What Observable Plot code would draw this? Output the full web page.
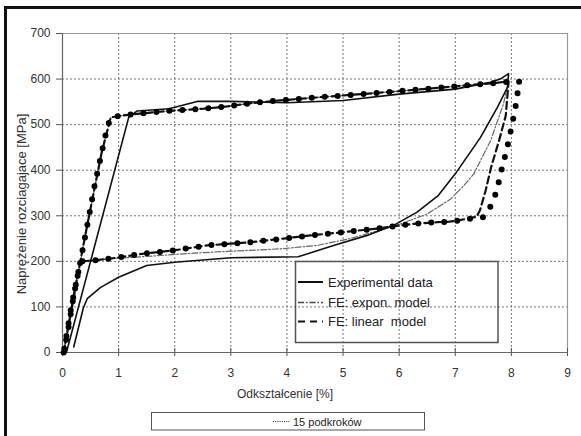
<!DOCTYPE html>
<html>
<head>
<meta charset="utf-8">
<script src="https://cdn.jsdelivr.net/npm/d3@7"></script>
<script src="https://cdn.jsdelivr.net/npm/@observablehq/plot@0.6"></script>
<style>
  body { margin: 0; background: white; }
  #wrap { position: relative; width: 581px; height: 436px; background: white; overflow: hidden; font-family: "Liberation Sans", Arial, sans-serif; }
  #overlay { position: absolute; left: 0; top: 0; pointer-events: none; }
</style>
</head>
<body>
<div id="wrap"></div>
<script>
// ---- data ----
const xTicks = [0, 1, 2, 3, 4, 5, 6, 7, 8, 9];
const yTicks = [0, 100, 200, 300, 400, 500, 600, 700];
const xGrid = [1, 2, 3, 4, 5, 6, 7, 8];
const yGrid = [100, 200, 300, 400, 500, 600];

const xLabel = "Odkształcenie [%]";
const yLabel = "Naprężenie rozciagajace [MPa]";
const legendNames = ["Experimental data", "FE: expon. model", "FE: linear  model"];
const bottomLegendName = "15 podkroków";

// Experimental data (solid)
const expX = [0.07, 0.5, 1.18, 1.33, 1.9, 2.4, 3.0, 4.0, 5.0, 6.0, 7.0, 7.5, 7.63, 7.8, 7.95,
              7.93, 7.75, 7.45, 7.0, 6.7, 6.32, 5.9, 5.43, 4.83, 4.2, 3.0, 2.0, 1.5, 1.0, 0.68, 0.44, 0.37, 0.2];
const expY = [0, 200, 516, 530, 535, 551, 551, 548, 553, 567, 578, 590, 593, 600, 612,
              582, 538, 472, 392, 345, 308, 279, 257, 235, 210, 208, 198, 191, 165, 143, 118, 97, 12];

// FE: expon. model (dash-dot)
const exponX = [0.02, 0.2, 0.45, 0.7, 0.86, 1.06, 1.44, 1.87, 2.52, 2.94, 3.29, 3.77, 4.36, 5.0, 5.85, 6.62, 7.27, 7.68, 7.95,
                7.86, 7.63, 7.33, 7.15, 6.92, 6.5, 6.02, 5.73, 5.13, 4.54, 3.94, 3.5, 2.94, 2.34, 1.75, 1.15, 0.97, 0.55, 0.32, 0.02];
const exponY = [0, 125, 285, 440, 516, 520, 525, 530, 535, 540, 546, 552, 558, 564, 572, 580, 587, 591, 595,
                546, 465, 392, 366, 337, 304, 282, 271, 250, 235, 228, 225, 222, 218, 213, 208, 207, 202, 200, 0];

// FE: linear model (dashed)
const linX = [0.02, 0.2, 0.45, 0.7, 0.86, 1.06, 1.44, 1.87, 2.52, 2.94, 3.29, 3.77, 4.36, 5.0, 5.85, 6.62, 7.27, 7.68, 7.95,
              7.9, 7.78, 7.64, 7.54, 7.44, 7.38, 7.1, 6.9, 6.68, 6.32, 6.03, 5.6, 5.0, 4.42, 3.94, 3.35, 2.58, 1.98, 1.45, 0.97, 0.55, 0.32, 0.02];
const linY = [0, 125, 285, 440, 516, 520, 525, 530, 535, 540, 546, 552, 558, 564, 572, 580, 587, 591, 595,
              520, 465, 407, 355, 312, 298, 291, 287, 286, 283, 279, 272, 264, 257, 250, 242, 235, 224, 217, 208, 202, 200, 0];

// 15 podkroków (big dots)
const subX = [0.02, 0.1, 0.2, 0.32, 0.45, 0.57, 0.7, 0.8, 0.86, 1.06, 1.44, 1.87, 2.52, 2.94, 3.29, 3.77, 4.36, 5.0, 5.85, 6.62, 7.27, 7.68, 7.93, 8.16,
              8.1, 8.07, 8.02, 7.97, 7.92, 7.86, 7.8, 7.74, 7.64, 7.5, 7.3, 7.1, 6.9, 6.68, 6.32, 6.03, 5.6, 5.0, 4.42, 3.94, 3.35, 2.58, 1.98, 1.45, 0.97, 0.55, 0.32, 0.15, 0.02];
const subY = [0, 50, 125, 200, 285, 365, 440, 495, 516, 520, 525, 530, 535, 540, 546, 552, 558, 564, 572, 580, 587, 591, 594, 594,
              564, 535, 505, 476, 447, 418, 388, 355, 323, 297, 294, 290, 287, 286, 283, 279, 272, 264, 257, 250, 242, 235, 224, 217, 208, 202, 200, 95, 0];

const toRows = (xs, ys) => xs.map((x, i) => ({x, y: ys[i]}));
const expData = toRows(expX, expY);
const exponData = toRows(exponX, exponY);
const linData = toRows(linX, linY);
const subData = toRows(subX, subY);

const font = "'Liberation Sans', Arial, sans-serif";

const chart = Plot.plot({
  width: 581,
  height: 405,
  marginLeft: 62,
  marginRight: 14,
  marginTop: 33,
  marginBottom: 53,
  x: {domain: [0, 9]},
  y: {domain: [0, 700]},
  style: {fontFamily: font, fontSize: "12px", color: "#333", background: "white", overflow: "visible"},
  marks: [
    Plot.gridX(xGrid, {stroke: "#777", strokeOpacity: 1, strokeDasharray: "2,2"}),
    Plot.gridY(yGrid, {stroke: "#777", strokeOpacity: 1, strokeDasharray: "2,2"}),
    Plot.ruleX([9], {stroke: "#999", strokeWidth: 1.2}),
    Plot.ruleY([700], {stroke: "#999", strokeWidth: 1.2}),
    Plot.ruleX([0], {stroke: "#666", strokeWidth: 1.2}),
    Plot.ruleY([0], {stroke: "#666", strokeWidth: 1.2}),
    Plot.axisX({ticks: xTicks, tickSize: 4, tickPadding: 12, label: null, stroke: "#555", fill: "#333"}),
    Plot.axisX({ticks: xTicks, tickSize: -4, tickFormat: () => "", label: null, stroke: "#555"}),
    Plot.axisY({ticks: yTicks, tickSize: 6, tickPadding: 6, label: null, stroke: "#555", fill: "#333"}),
    Plot.text([xLabel], {text: d => d, frameAnchor: "bottom", textAnchor: "middle", lineAnchor: "middle", dy: 42, dx: -30, fill: "#333", fontSize: 12}),
    Plot.text([yLabel], {text: d => d, frameAnchor: "left", textAnchor: "middle", lineAnchor: "middle", rotate: -90, dx: -40.5, dy: 11, fill: "#333", fontSize: 13}),
    Plot.line(exponData, {x: "x", y: "y", stroke: "#666", strokeWidth: 1.2, strokeDasharray: "6,2,1.5,2"}),
    Plot.line(expData, {x: "x", y: "y", stroke: "#111", strokeWidth: 1.6}),
    Plot.line(linData, {x: "x", y: "y", stroke: "#111", strokeWidth: 2.2, strokeDasharray: "7,4"}),
    Plot.line(subData, {x: "x", y: "y", stroke: "#000", strokeWidth: 6, strokeDasharray: "0,13", strokeLinecap: "round"})
  ]
});

const wrap = document.getElementById("wrap");
wrap.appendChild(chart);

// overlay: legend boxes and outer frame
const svg = d3.select(wrap).append("svg")
  .attr("id", "overlay")
  .attr("width", 581).attr("height", 436)
  .style("font-family", font);

// outer frame (top and left)
svg.append("rect").attr("x", 4).attr("y", 6).attr("width", 577).attr("height", 3).attr("fill", "#111");
svg.append("rect").attr("x", 4).attr("y", 6).attr("width", 3).attr("height", 430).attr("fill", "#111");

// inner legend
svg.append("rect").attr("x", 295.5).attr("y", 261.5).attr("width", 202.5).attr("height", 81)
  .attr("fill", "none").attr("stroke", "#555").attr("stroke-width", 1.5);
const rows = [
  {y: 282, dash: null, w: 2, c: "#111"},
  {y: 302.5, dash: "6,2,1.5,2", w: 1.4, c: "#444"},
  {y: 321.5, dash: "7,5", w: 2.2, c: "#111"}
];
rows.forEach((r, i) => {
  const ln = svg.append("line").attr("x1", 298).attr("x2", 323).attr("y1", r.y).attr("y2", r.y)
    .attr("stroke", r.c).attr("stroke-width", r.w);
  if (r.dash) ln.attr("stroke-dasharray", r.dash);
  svg.append("text").attr("x", 328).attr("y", r.y + 4.5).attr("font-size", 13).attr("fill", "#222")
    .attr("xml:space", "preserve").style("white-space", "pre").text(legendNames[i]);
});

// bottom legend box
svg.append("rect").attr("x", 151.5).attr("y", 412.5).attr("width", 273).attr("height", 17.5)
  .attr("fill", "none").attr("stroke", "#555").attr("stroke-width", 1);
svg.append("line").attr("x1", 273).attr("x2", 290).attr("y1", 421.5).attr("y2", 421.5)
  .attr("stroke", "#333").attr("stroke-width", 1).attr("stroke-dasharray", "1,1.2");
svg.append("text").attr("x", 293).attr("y", 425.5).attr("font-size", 11).attr("fill", "#222").text(bottomLegendName);
</script>
</body>
</html>
